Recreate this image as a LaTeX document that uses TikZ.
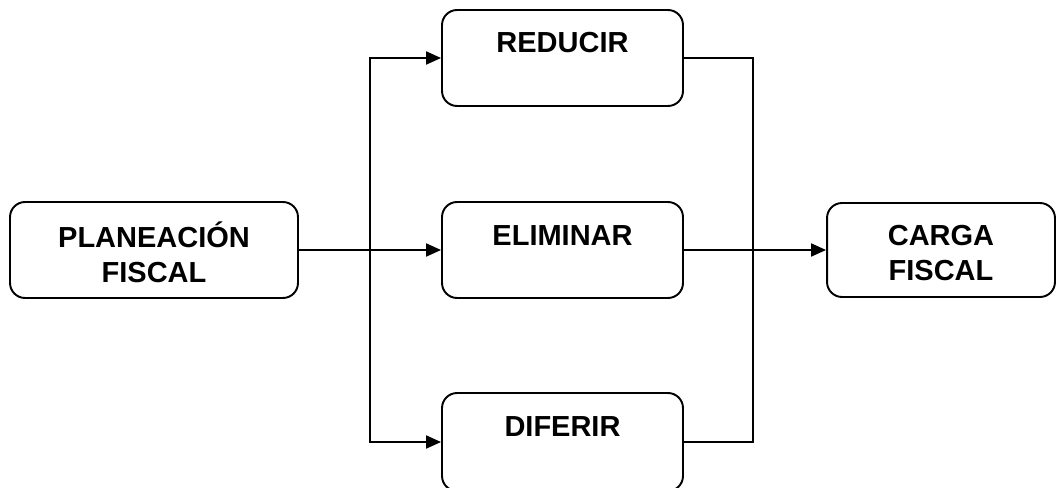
\documentclass[tikz,border=0pt]{standalone}
\usepackage{fontspec}
\setmainfont{Liberation Sans}
\usepackage{tikz}
\usetikzlibrary{calc, positioning, arrows.meta}

\tikzset{
  caja/.style={draw, line width=1.1pt, rounded corners=0.3cm, inner sep=0pt},
  texto/.style={font=\fontsize{16.5}{20}\selectfont\bfseries, align=center},
  flecha/.style={line width=1.1pt, -{Triangle[length=0.3cm, width=0.26cm]}},
  linea/.style={line width=1.1pt}
}

\begin{document}
\begin{tikzpicture}[x=0.02cm, y=-0.02cm]
\useasboundingbox (0,0) rectangle (1057,487);

% Caja de la planeacion fiscal:
\node[caja, minimum width=5.76cm, minimum height=1.92cm] (planeacion) at (154,250) {};
\node[texto] (tplaneacion) at (154,252) {PLANEACIÓN\\FISCAL};

% Las tres cajas del centro:
\node[caja, minimum width=4.82cm, minimum height=1.92cm] (reducir) at (562.5,58) {};
\node[texto] (treducir) at (562.5,43) {REDUCIR};

\node[caja, minimum width=4.82cm, minimum height=1.92cm] (eliminar) at (562.5,250) {};
\node[texto] (teliminar) at (562.5,236) {ELIMINAR};

\node[caja, minimum width=4.82cm, minimum height=1.96cm] (diferir) at (562.5,442) {};
\node[texto] (tdiferir) at (562.5,427) {DIFERIR};

% Caja de la carga fiscal:
\node[caja, minimum width=4.56cm, minimum height=1.88cm] (carga) at (941,250) {};
\node[texto] (tcarga) at (941,253) {CARGA\\FISCAL};

% Puntos donde se abren y se juntan las lineas:
\coordinate (ramaI) at (370,250);
\coordinate (ramaD) at (753,250);

% Flechas de la planeacion hacia las tres cajas:
\draw[flecha] (planeacion.east) -- (eliminar.west);
\draw[flecha] (ramaI) |- (reducir.west);
\draw[flecha] (ramaI) |- (diferir.west);

% Lineas que van a la carga fiscal:
\draw[linea] (reducir.east) -| (ramaD);
\draw[linea] (diferir.east) -| (ramaD);
\draw[flecha] (eliminar.east) -- (carga.west);
\end{tikzpicture}
\end{document}
